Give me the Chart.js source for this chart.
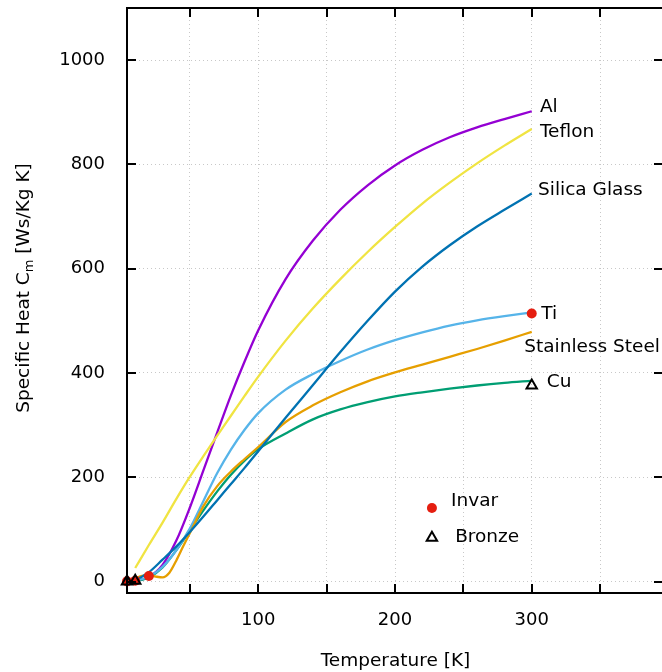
<!DOCTYPE html>
<html>
<head>
<meta charset="utf-8">
<script src="https://cdn.jsdelivr.net/npm/chart.js@4.4.1/dist/chart.umd.min.js"></script>
<style>
  html, body { margin: 0; padding: 0; background: #fff; overflow: hidden; }
  #box { width: 665px; height: 672px; }
</style>
</head>
<body>
<div id="box"><canvas id="myChart"></canvas></div>
<script>
// 온도 [K] - 공통 x 값
const tempK = [4, 10, 20, 30, 40, 50, 60, 70, 80, 90, 100, 120, 140, 160, 180, 200, 220, 240, 260, 280, 300];

// 비열 Cm [Ws/Kg K]
const alHeat     = [0.3, 1.4, 9, 32, 78, 142, 214, 286, 357, 422, 482, 580, 654, 713, 760, 798, 828, 852, 871, 887, 902];
const cuHeat     = [0.1, 0.9, 7.7, 27, 60, 98, 137, 173, 205, 232, 254, 284, 311, 330, 344, 355, 363, 370, 376, 381, 385];
const tiHeat     = [0.2, 1.5, 9, 28, 60, 102, 155, 208, 253, 291, 323, 368, 398, 423, 445, 463, 478, 491, 501, 509, 516];
const teflonHeat = [null, 26, 70, 113, 158, 201, 241, 280, 318, 356, 393, 462, 524, 580, 632, 680, 725, 765, 802, 836, 868];
const silicaHeat = [0.3, 3, 18, 42, 67, 95, 125, 156, 187, 218, 250, 314, 377, 440, 500, 556, 604, 645, 681, 713, 744];

// stainless steel 은 저온쪽이 따로
const ssTemp = [4, 10, 15, 20, 25, 30, 35, 40, 45, 50, 60, 70, 80, 90, 100, 120, 140, 160, 180, 200, 220, 240, 260, 280, 300];
const ssHeat = [1, 6, 11, 12, 9.5, 8, 17, 40, 67, 93, 145, 183, 211, 235, 258, 306, 338, 363, 384, 401, 416, 431, 446, 462, 479];

// 측정점
const invarTemp  = [4, 10, 20, 300];
const invarHeat  = [0.3, 1.5, 10.5, 514];
const bronzeTemp = [4, 10, 300];
const bronzeHeat = [0.2, 1.5, 376];

// 눈금
const xGrid   = [50, 100, 150, 200, 250, 300, 350];
const xLabels = [100, 200, 300];
const yTicks  = [0, 200, 400, 600, 800, 1000];

// 곡선 끝 라벨 (데이터 좌표)
const curveLabels = [
  { text: 'Al',              x: 306, y: 909 },
  { text: 'Teflon',          x: 306, y: 861 },
  { text: 'Silica Glass',    x: 304.6, y: 750 },
  { text: 'Ti',              x: 307, y: 512 },
  { text: 'Stainless Steel', x: 294.5, y: 448.6 },
  { text: 'Cu',              x: 311, y: 383 }
];

const FONT = '"DejaVu Sans", Verdana, sans-serif';
const TXT = '18.5px ' + FONT;
Chart.defaults.font.family = FONT;
Chart.defaults.font.size = 18;
Chart.defaults.color = '#000';

function pts(xs, ys) {
  let out = [];
  xs.forEach((x, i) => { if (ys[i] != null) out.push({ x: x, y: ys[i] }); });
  return out;
}

function curve(label, xs, ys, color, order) {
  return {
    label: label, data: pts(xs, ys), borderColor: color, backgroundColor: color,
    borderWidth: 2.3, pointRadius: 0, cubicInterpolationMode: 'monotone', order: order
  };
}

// 테두리, 안쪽 눈금, 축제목, 라벨, 범례
const decor = {
  id: 'decor',
  afterDraw(chart) {
    const ctx = chart.ctx;
    const { left, right, top, bottom } = chart.chartArea;
    const xs = chart.scales.x, ys = chart.scales.y;
    ctx.save();
    ctx.strokeStyle = '#000';
    ctx.lineWidth = 2;
    ctx.strokeRect(left, top, right - left, bottom - top);
    ctx.beginPath();
    xs.ticks.forEach(t => {
      const px = Math.round(xs.getPixelForValue(t.value));
      ctx.moveTo(px, bottom); ctx.lineTo(px, bottom - 9);
      ctx.moveTo(px, top); ctx.lineTo(px, top + 9);
    });
    ys.ticks.forEach(t => {
      const py = Math.round(ys.getPixelForValue(t.value));
      ctx.moveTo(left, py); ctx.lineTo(left + 9, py);
      ctx.moveTo(right, py); ctx.lineTo(right - 9, py);
    });
    ctx.stroke();

    ctx.fillStyle = '#000';
    ctx.font = TXT;
    ctx.textBaseline = 'middle';

    // x 축 제목
    ctx.textAlign = 'center';
    ctx.fillText('Temperature [K]', 395.5, 661);

    // y 축 제목 (아래첨자 m)
    ctx.save();
    ctx.translate(22, 288);
    ctx.rotate(-Math.PI / 2);
    ctx.textAlign = 'left';
    ctx.textBaseline = 'alphabetic';
    const p1 = 'Specific Heat C', p2 = 'm', p3 = ' [Ws/Kg K]';
    const sub = '13px ' + FONT;
    ctx.font = TXT;
    const w1 = ctx.measureText(p1).width, w3 = ctx.measureText(p3).width;
    ctx.font = sub;
    const w2 = ctx.measureText(p2).width;
    let x0 = -(w1 + w2 + w3) / 2;
    ctx.font = TXT;
    ctx.fillText(p1, x0, 6.5);
    ctx.font = sub;
    ctx.fillText(p2, x0 + w1, 10.5);
    ctx.font = TXT;
    ctx.fillText(p3, x0 + w1 + w2, 6.5);
    ctx.restore();

    // 곡선 라벨
    ctx.textAlign = 'left';
    curveLabels.forEach(l => {
      ctx.fillText(l.text, xs.getPixelForValue(l.x), ys.getPixelForValue(l.y));
    });

    // 범례
    const kx = xs.getPixelForValue(227);
    ctx.fillStyle = '#e51e10';
    ctx.beginPath();
    ctx.arc(kx, ys.getPixelForValue(141), 5, 0, Math.PI * 2);
    ctx.fill();
    const ty = ys.getPixelForValue(84), r = 6;
    ctx.beginPath();
    ctx.moveTo(kx, ty - r);
    ctx.lineTo(kx + Math.sin(2 * Math.PI / 3) * r, ty + r / 2);
    ctx.lineTo(kx - Math.sin(2 * Math.PI / 3) * r, ty + r / 2);
    ctx.closePath();
    ctx.lineWidth = 2;
    ctx.strokeStyle = '#000';
    ctx.stroke();
    ctx.fillStyle = '#000';
    ctx.fillText('Invar', xs.getPixelForValue(241), ys.getPixelForValue(155));
    ctx.fillText('Bronze', xs.getPixelForValue(244), ys.getPixelForValue(86));
    ctx.restore();
  }
};

const ctx = document.getElementById('myChart');

new Chart(ctx, {
  type: 'line',
  data: {
    datasets: [
      curve('Al', tempK, alHeat, '#9400d3', 8),
      curve('Cu', tempK, cuHeat, '#009e73', 7),
      curve('Ti', tempK, tiHeat, '#56b4e9', 6),
      curve('Stainless Steel', ssTemp, ssHeat, '#e69f00', 5),
      curve('Teflon', tempK, teflonHeat, '#f0e442', 4),
      curve('Silica Glass', tempK, silicaHeat, '#0072b2', 3),
      {
        label: 'Invar', data: pts(invarTemp, invarHeat), showLine: false,
        pointStyle: 'circle', pointRadius: 5, pointBackgroundColor: '#e51e10',
        pointBorderColor: '#e51e10', pointBorderWidth: 0, clip: false, order: 2
      },
      {
        label: 'Bronze', data: pts(bronzeTemp, bronzeHeat), showLine: false,
        pointStyle: 'triangle', pointRadius: 6, pointBackgroundColor: 'rgba(0,0,0,0)',
        pointBorderColor: '#000', pointBorderWidth: 2, clip: false, order: 1
      }
    ]
  },
  options: {
    responsive: true,
    maintainAspectRatio: false,
    animation: false,
    layout: { autoPadding: false, padding: { top: 8, right: 2, left: 0, bottom: 0 } },
    plugins: { legend: { display: false }, tooltip: { enabled: false } },
    scales: {
      x: {
        type: 'linear', min: 4, max: 396,
        afterFit: s => { s.height = 79; s.paddingLeft = 0; s.paddingRight = 0; },
        afterBuildTicks: s => { s.ticks = xGrid.map(v => ({ value: v })); },
        grid: { color: '#c8c8c8', lineWidth: 1, drawTicks: false },
        border: { display: false, dash: [1, 3] },
        ticks: {
          padding: 17, maxRotation: 0, autoSkip: false,
          callback: v => xLabels.includes(v) ? String(v) : ''
        }
      },
      y: {
        type: 'linear', min: -22, max: 1100,
        afterFit: s => { s.width = 127; s.paddingTop = 0; s.paddingBottom = 0; },
        afterBuildTicks: s => { s.ticks = yTicks.map(v => ({ value: v })); },
        grid: { color: '#c8c8c8', lineWidth: 1, drawTicks: false },
        border: { display: false, dash: [1, 3] },
        ticks: { padding: 22, autoSkip: false, callback: v => String(v) }
      }
    }
  },
  plugins: [decor]
});
</script>
</body>
</html>
